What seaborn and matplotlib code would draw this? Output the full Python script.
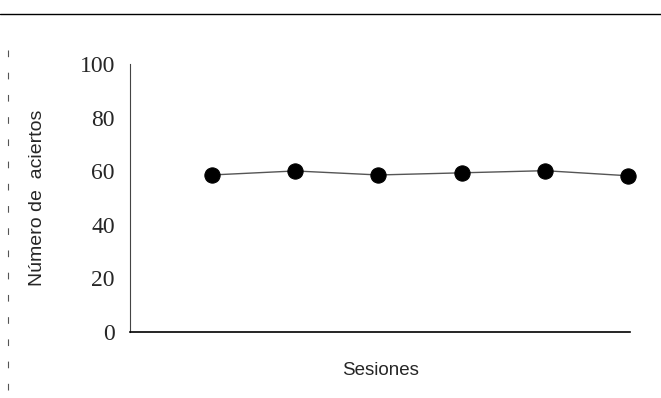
import matplotlib
matplotlib.use("Agg")
import matplotlib.pyplot as plt
from matplotlib.lines import Line2D
import seaborn as sns
import pandas as pd

sesiones = [1, 2, 3, 4, 5, 6]
aciertos = [58.6, 60.1, 58.6, 59.4, 60.2, 58.3]
yticks = [0, 20, 40, 60, 80, 100]

df = pd.DataFrame({"Sesiones": sesiones, "Aciertos": aciertos})

sns.set_style("white")
fig = plt.figure(figsize=(6.61, 3.98), dpi=100)
ax = fig.add_axes([0.197, 0.166, 0.756, 0.673])

sns.lineplot(data=df, x="Sesiones", y="Aciertos", ax=ax, color="#555555",
             linewidth=1.0, marker="o", markersize=11, markerfacecolor="black",
             markeredgecolor="black", zorder=3, clip_on=False)

ax.set_xlim(0.02, 6.02)
ax.set_ylim(0, 100)
ax.set_yticks(yticks)
ax.set_yticklabels([str(t) for t in yticks], fontfamily="Liberation Serif", fontsize=17)
ax.set_xticks([])
ax.tick_params(axis="y", direction="out", length=3, width=0.8, pad=8, color="#333333")
ax.set_xlabel("Sesiones", fontfamily="Liberation Sans", fontsize=13.5, labelpad=22)
ax.set_ylabel("Número de  aciertos", fontfamily="Liberation Sans", fontsize=14, labelpad=24)

for s in ["top", "right"]:
    ax.spines[s].set_visible(False)
ax.spines["left"].set_color("#444444")
ax.spines["left"].set_linewidth(0.8)
ax.spines["bottom"].set_color("black")
ax.spines["bottom"].set_linewidth(1.2)

# scan border lines
fig.add_artist(Line2D([0.0, 1.0], [1 - 14/398, 1 - 14/398], transform=fig.transFigure,
                      color="black", linewidth=1.0))
fig.add_artist(Line2D([8/661, 8/661], [1 - 390/398, 1 - 35/398], transform=fig.transFigure,
                      color="#555555", linewidth=0.8, linestyle=(0, (6, 14))))

fig.savefig("out.png", dpi=100)
